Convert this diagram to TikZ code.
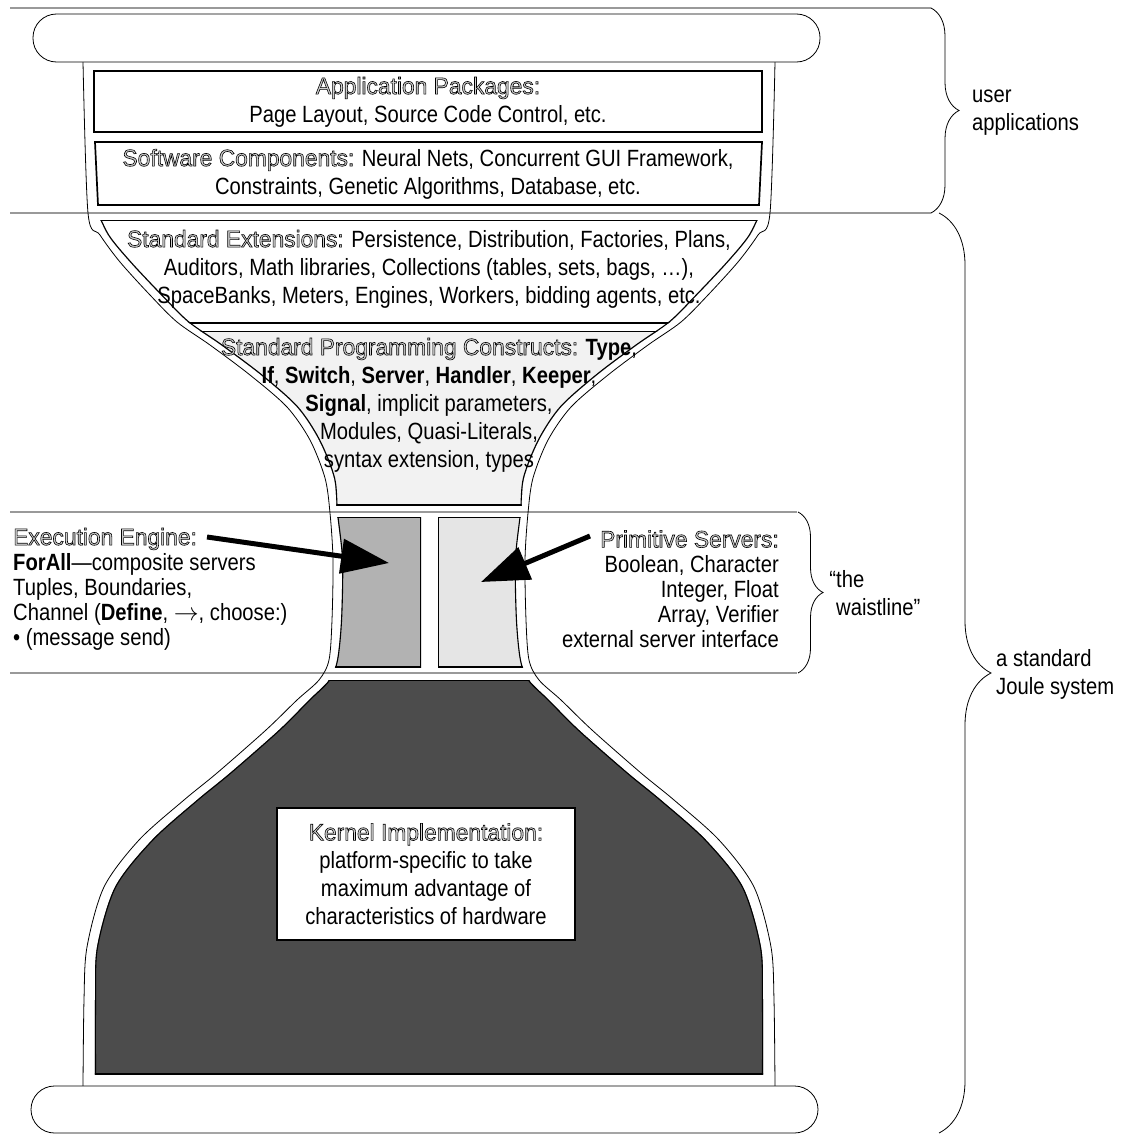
\documentclass[tikz,border=0pt]{standalone}
\usepackage{fontspec}
\setmainfont{Liberation Sans}[FakeStretch=0.86]
\newfontfamily\headfont{Liberation Sans}[FakeStretch=0.97]
\usetikzlibrary{arrows.meta,decorations.pathreplacing}

% outlined heading text (light fill, black stroke)
\newcommand\hollow[1]{{\headfont\color{black!18}\special{pdf:literal direct 0 G 2 Tr 0.6 w}#1\special{pdf:literal direct 0 Tr}}}

\tikzset{
  sep/.style={draw=black!40, line width=1.5pt},
  hull/.style={draw=black, line width=0.8pt},
  bar/.style={draw=black, line width=0.8pt, fill=white, rounded corners=23.5pt},
  box/.style={draw=black, line width=1.7pt},
  layer/.style={draw=black, line width=2.2pt},
  txt/.style={font=\fontsize{23.5}{28}\selectfont, align=center, inner sep=0pt},
  waisttxt/.style={font=\fontsize{23.5}{25}\selectfont, inner sep=0pt},
  kbox/.style={draw=black, line width=2.8pt, fill=white, minimum width=298pt,
               minimum height=132pt, inner sep=0pt},
  bigarrow/.style={-{Triangle[length=48pt,width=34pt]}, line width=5pt},
  brc/.style={decorate, decoration={brace, amplitude=#1}, draw=black, line width=0.8pt},
}

% hourglass contours (y grows downwards)
\newcommand\hullL{plot[smooth] coordinates {(83,62) (88,213) (100,235) (120,262)
  (150,295) (177,322) (210,345) (250,375) (287,407) (310,440) (325,478) (330,513)
  (333,560) (332,620) (329,660) (319,680) (297,700) (266,730) (217,773) (184,800)
  (139,840) (104,887) (87,947) (84,1000) (83,1086)}}
\newcommand\hullR{plot[smooth] coordinates {(775,62) (770,213) (758,235) (738,262)
  (708,295) (681,322) (648,345) (608,375) (571,407) (548,440) (533,478) (528,513)
  (525,560) (526,620) (529,660) (539,680) (561,700) (592,730) (641,773) (674,800)
  (719,840) (754,887) (771,947) (774,1000) (775,1086)}}
\newcommand\innerhull{plot[smooth] coordinates {(94,205) (108,235) (130,262)
  (161,295) (188,322) (221,345) (261,375) (297,407) (319,440) (334,478) (337,513)
  (342,560) (341,620) (337,660) (329,680) (309,700) (279,730) (230,773) (197,800)
  (152,840) (115,887) (97,947) (95,1000) (95,1090)}
  -- plot[smooth] coordinates {(763,1090) (763,1000) (761,947) (743,887) (706,840)
  (661,800) (628,773) (579,730) (549,700) (529,680) (521,660) (517,620) (516,560)
  (521,513) (524,478) (539,440) (561,407) (597,375) (637,345) (670,322) (697,295)
  (728,262) (750,235) (764,205)} -- cycle}

\begin{document}
\begin{tikzpicture}[x=1pt,y=-1pt]
  \useasboundingbox (0,0) rectangle (1125,1135);

  % separators
  \draw[sep] (10,8) -- (931,8);
  \draw[sep] (10,213) -- (931,213);
  \draw[sep] (10,512) -- (797,512);
  \draw[sep] (10,673) -- (797,673);

  % the hourglass
  \draw[hull] \hullL;
  \draw[hull] \hullR;
  \draw[bar] (33,14) rectangle (820,62);
  \draw[bar] (31,1086) rectangle (818,1133);

  \draw[box] (94,71) rectangle (762,132);
  \draw[box] (95,142) -- (762,142) -- (759,205) -- (98,205) -- cycle;

  \begin{scope}
    \clip \innerhull;
    \begin{scope}
      \clip (0,220) rectangle (858,505);
      \draw[layer] \innerhull;
    \end{scope}
    \begin{scope}
      \clip (0,220) rectangle (858,323);
      \filldraw[layer, fill=white] (0,220) rectangle (858,323);
      \draw[layer] \innerhull;
    \end{scope}
    \begin{scope}
      \clip (0,331) rectangle (858,505);
      \filldraw[layer, fill=black!5] (0,331) rectangle (858,505);
      \draw[layer] \innerhull;
    \end{scope}
    \begin{scope}
      \clip (0,517) rectangle (421,667);
      \filldraw[layer, fill=black!30] (0,517) rectangle (421,667);
      \draw[layer] \innerhull;
    \end{scope}
    \begin{scope}
      \clip (438,517) rectangle (858,667);
      \filldraw[layer, fill=black!10] (438,517) rectangle (858,667);
      \draw[layer] \innerhull;
    \end{scope}
    \begin{scope}
      \clip (0,680) rectangle (858,1074);
      \filldraw[layer, fill=black!70] (0,680) rectangle (858,1074);
      \draw[layer] \innerhull;
    \end{scope}
  \end{scope}

  % layer texts
  \node[txt] (apps) at (428,102)
    {\hollow{Application Packages:}\\Page Layout, Source Code Control, etc.};
  \node[txt] (comps) at (428,174)
    {\hollow{Software Components:} Neural Nets, Concurrent GUI Framework,\\
     Constraints, Genetic Algorithms, Database, etc.};
  \node[txt] (ext) at (429,269)
    {\hollow{Standard Extensions:} Persistence, Distribution, Factories, Plans,\\
     Auditors, Math libraries, Collections (tables, sets, bags, …),\\
     SpaceBanks, Meters, Engines, Workers, bidding agents, etc.};
  \node[txt] (constr) at (429,405)
    {\hollow{Standard Programming Constructs:} \textbf{Type},\\
     \textbf{If}, \textbf{Switch}, \textbf{Server}, \textbf{Handler}, \textbf{Keeper},\\
     \textbf{Signal}, implicit parameters,\\
     Modules, Quasi-Literals,\\
     syntax extension, types};
  \node[kbox, txt] (kernel) at (426,874)
    {\hollow{Kernel Implementation:}\\platform-specific to take\\
     maximum advantage of\\characteristics of hardware};

  % the waistline
  \node[waisttxt, anchor=west, align=left] (exec) at (13,589)
    {\hollow{Execution Engine:}\\
     \textbf{ForAll}—composite servers\\
     Tuples, Boundaries,\\
     Channel (\textbf{Define}, $\rightarrow$, choose:)\\
     • (message send)};
  \node[waisttxt, anchor=east, align=right] (prim) at (779,589)
    {\hollow{Primitive Servers:}\\
     Boolean, Character\\
     Integer, Float\\
     Array, Verifier\\
     external server interface};

  \coordinate (execTail) at (207,537);
  \coordinate (execTip) at (389,563);
  \coordinate (primTail) at (590,536);
  \coordinate (primTip) at (481,582);
  \draw[bigarrow] (execTail) -- (execTip);
  \draw[bigarrow] (primTail) -- (primTip);

  % braces
  \coordinate (userTop) at (931,8);
  \coordinate (userBot) at (931,213);
  \coordinate (waistTop) at (798,512);
  \coordinate (waistBot) at (798,673);
  \coordinate (jouleTop) at (939,213);
  \coordinate (jouleBot) at (939,1133);
  \draw[brc=28pt] (userTop) -- (userBot);
  \draw[brc=25pt] (waistTop) -- (waistBot);
  \draw[brc=52pt] (jouleTop) -- (jouleBot);

  \node[txt, anchor=west, align=left] (user) at (972,113) {user\\applications};
  \node[txt, anchor=west, align=left] (waist) at (836,593)
    {\llap{“}the\\waistline”};
  \node[txt, anchor=west, align=left] (joule) at (996,674) {a standard\\Joule system};
\end{tikzpicture}
\end{document}
